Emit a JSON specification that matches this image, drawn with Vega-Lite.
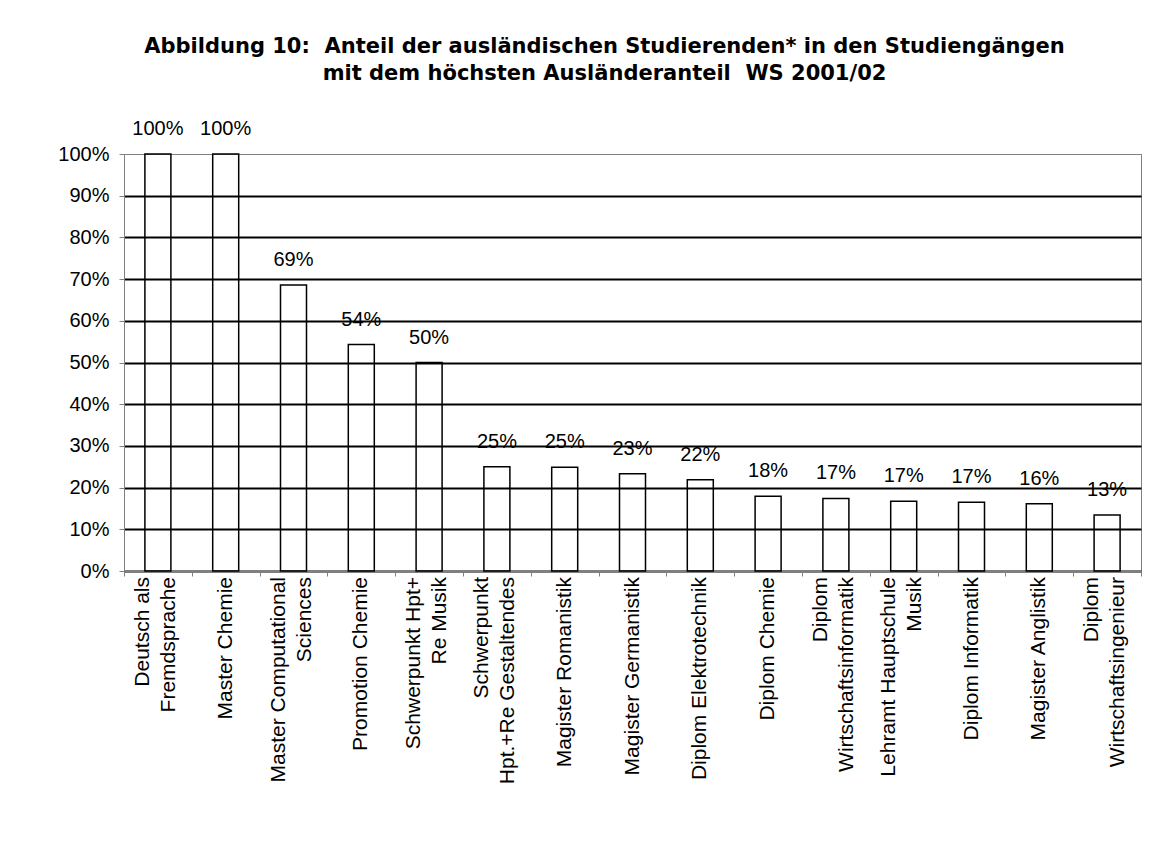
{
  "$schema": "https://vega.github.io/schema/vega-lite/v6.json",
  "width": 1017,
  "height": 417,
  "autosize": {"type": "none"},
  "padding": {"left": 124, "top": 154, "right": 32, "bottom": 270},
  "background": "white",
  "title": {
    "text": ["Abbildung 10: \u00a0Anteil der ausländischen Studierenden* in den Studiengängen", "mit dem höchsten Ausländeranteil \u00a0WS 2001/02"],
    "font": "DejaVu Sans",
    "fontSize": 21,
    "fontWeight": "bold",
    "color": "black",
    "lineHeight": 27,
    "anchor": "middle",
    "dx": -28,
    "offset": 35
  },
  "config": {
    "view": {"stroke": "#808080", "strokeWidth": 1},
    "font": "Liberation Sans"
  },
  "data": {
    "values": [
      {"studiengang": "Deutsch als\nFremdsprache", "anteil": 1.0},
      {"studiengang": "Master Chemie", "anteil": 1.0},
      {"studiengang": "Master Computational\nSciences", "anteil": 0.686},
      {"studiengang": "Promotion Chemie", "anteil": 0.543},
      {"studiengang": "Schwerpunkt Hpt+\nRe Musik", "anteil": 0.5},
      {"studiengang": "Schwerpunkt\nHpt.+Re Gestaltendes", "anteil": 0.25},
      {"studiengang": "Magister Romanistik", "anteil": 0.249},
      {"studiengang": "Magister Germanistik", "anteil": 0.233},
      {"studiengang": "Diplom Elektrotechnik", "anteil": 0.219},
      {"studiengang": "Diplom Chemie", "anteil": 0.179},
      {"studiengang": "Diplom\nWirtschaftsinformatik", "anteil": 0.174},
      {"studiengang": "Lehramt Hauptschule\nMusik", "anteil": 0.167},
      {"studiengang": "Diplom Informatik", "anteil": 0.165},
      {"studiengang": "Magister Anglistik", "anteil": 0.161},
      {"studiengang": "Diplom\nWirtschaftsingenieur", "anteil": 0.134}
    ]
  },
  "encoding": {
    "x": {
      "field": "studiengang",
      "type": "nominal",
      "sort": null,
      "scale": {"paddingInner": 0, "paddingOuter": 0},
      "axis": {
        "title": null,
        "labels": false,
        "tickBand": "extent",
        "tickSize": 5,
        "tickColor": "#808080",
        "domainColor": "#808080",
        "grid": false
      }
    },
    "y": {
      "field": "anteil",
      "type": "quantitative",
      "scale": {"domain": [0, 1], "nice": false},
      "axis": {
        "title": null,
        "values": [0, 0.1, 0.2, 0.3, 0.4, 0.5, 0.6, 0.7, 0.8, 0.9, 1],
        "format": ".0%",
        "labelFontSize": 20,
        "labelColor": "black",
        "labelPadding": 10,
        "tickSize": 5,
        "tickColor": "#808080",
        "domainColor": "#808080",
        "grid": true,
        "gridColor": {"condition": {"test": "datum.value >= 1", "value": "#808080"}, "value": "black"},
        "gridWidth": {"condition": {"test": "datum.value >= 1", "value": 1}, "value": 2},
        "gridOpacity": 1
      }
    }
  },
  "layer": [
    {
      "mark": {"type": "bar", "width": 26, "fill": "transparent", "stroke": "black", "strokeWidth": 1.5}
    },
    {
      "mark": {"type": "text", "baseline": "alphabetic", "dy": -19, "fontSize": 20, "color": "black"},
      "encoding": {
        "text": {"field": "anteil", "format": ".0%"}
      }
    },
    {
      "transform": [{"filter": "indexof(datum.studiengang, '\\n') < 0"}],
      "mark": {"type": "text", "angle": 270, "align": "right", "baseline": "middle", "dx": -6, "fontSize": 21, "color": "black"},
      "encoding": {
        "y": {"datum": 0},
        "text": {"field": "studiengang"}
      }
    },
    {
      "transform": [{"filter": "indexof(datum.studiengang, '\\n') >= 0"}],
      "mark": {"type": "text", "angle": 270, "align": "right", "baseline": "middle", "dx": -6, "dy": -15, "fontSize": 21, "lineHeight": 26, "lineBreak": "\n", "color": "black"},
      "encoding": {
        "y": {"datum": 0},
        "text": {"field": "studiengang"}
      }
    }
  ]
}
